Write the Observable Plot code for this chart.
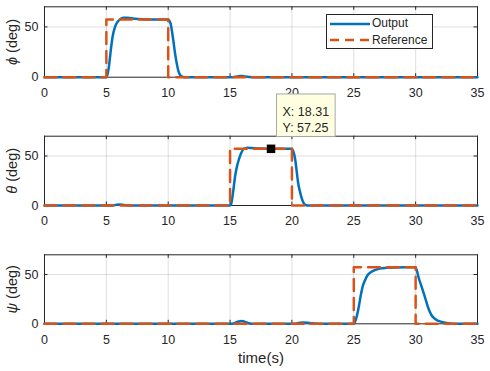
<!DOCTYPE html>
<html><head><meta charset="utf-8">
<script src="https://cdn.jsdelivr.net/npm/d3@7"></script>
<script src="https://cdn.jsdelivr.net/npm/@observablehq/plot@0.6"></script>
<style>
body{margin:0;background:#fff;}
#chart{position:relative;width:490px;height:371px;overflow:hidden;font-family:"Liberation Sans",Arial,sans-serif;color:#262626;}
#chart svg{position:absolute;left:0;}
</style></head><body><div id="chart"></div>
<script>
// ---- data ----
const xTicks = [0, 5, 10, 15, 20, 25, 30, 35];
const yTicks = [0, 50];
const xLabel = "time(s)";
const unitLabel = "(deg)";
const angleSymbols = ["ϕ", "θ", "ψ"];
const seriesNames = ["Output", "Reference"];

const phiOutT = [0, 5, 5.05, 5.2, 5.35, 5.5, 5.7, 5.9, 6.1, 6.4, 6.7, 7.0, 7.6, 8.3, 9.0, 10.0, 10.1, 10.2, 10.3, 10.43, 10.55, 10.7, 10.85, 11.0, 11.2, 11.5, 15.2, 15.6, 15.9, 16.2, 16.6, 17.0, 35];
const phiOutV = [0, 0, 1, 10, 26, 40, 50, 55, 57.5, 59, 59.2, 58.6, 57.8, 57.4, 57.3, 57.3, 56, 53, 46, 35, 24, 13, 5, 1.5, 0.3, 0, 0, 0.7, 1.1, 0.8, 0.2, 0, 0];
const phiRefT = [0, 5, 5, 10, 10, 35];
const phiRefV = [0, 0, 57.3, 57.3, 0, 0];

const thetaOutT = [0, 5.5, 5.8, 6.1, 6.4, 6.8, 15.0, 15.1, 15.25, 15.4, 15.55, 15.7, 15.9, 16.1, 16.4, 16.8, 17.5, 18.31, 19.0, 20.0, 20.1, 20.27, 20.4, 20.5, 20.65, 20.8, 20.95, 21.1, 21.3, 35];
const thetaOutV = [0, 0, 0.8, 1.1, 0.6, 0, 0, 2, 14, 29, 39, 46, 53, 57, 58.3, 58, 57.5, 57.25, 57.25, 57.25, 55, 46, 33, 23, 14, 7, 2.5, 0.5, 0, 0];
const thetaRefT = [0, 15, 15, 20, 20, 35];
const thetaRefV = [0, 0, 57.3, 57.3, 0, 0];

const psiOutT = [0, 15.2, 15.4, 15.7, 15.95, 16.2, 16.5, 16.8, 20.2, 20.5, 20.9, 21.4, 21.9, 22.3, 25.0, 25.1, 25.25, 25.4, 25.55, 25.7, 25.9, 26.1, 26.4, 26.7, 27.1, 27.6, 28.3, 30.0, 30.1, 30.24, 30.5, 30.8, 31.05, 31.3, 31.6, 31.85, 32.4, 33.0, 35];
const psiOutV = [0, 0, 1, 2.4, 2.8, 2, 0.7, 0, 0, 0.8, 1.2, 0.8, 0.3, 0, 0, 2, 8, 17, 28, 37, 44, 49, 52.5, 54.5, 56, 56.8, 57.2, 57.3, 54, 47, 37, 25, 15, 8.4, 4.5, 3, 1, 0, 0];
const psiRefT = [0, 25, 25, 30, 30, 35];
const psiRefV = [0, 0, 57.3, 57.3, 0, 0];

const datatipX = [18.31];
const datatipY = [57.25];

// ---- layout / style ----
const W = 490, ML = 44, MR = 13;
const BLUE = "#0072BD", ORANGE = "#D95319", AX = "#262626";
const panels = [
  {sym: angleSymbols[0], outT: phiOutT, outV: phiOutV, refT: phiRefT, refV: phiRefV, top: 0, height: 110, fTop: 6.3, fBot: 76.7},
  {sym: angleSymbols[1], outT: thetaOutT, outV: thetaOutV, refT: thetaRefT, refV: thetaRefV, top: 90, height: 140, fTop: 135.7, fBot: 205, tip: true},
  {sym: angleSymbols[2], outT: psiOutT, outV: psiOutV, refT: psiRefT, refV: psiRefV, top: 230, height: 141, fTop: 254.3, fBot: 323.3, xlab: true}
];

const chart = document.getElementById("chart");
const innerW = W - ML - MR;

panels.forEach((p) => {
  const out = p.outT.map((t, k) => ({t, v: p.outV[k]}));
  const ref = p.refT.map((t, k) => ({t, v: p.refV[k]}));
  const innerH = p.fBot - p.fTop;
  const label = `${p.sym} ${unitLabel}`;
  const marks = [
    Plot.gridX(xTicks.slice(1, -1), {stroke: AX, strokeOpacity: 0.15, strokeWidth: 1}),
    Plot.gridY(yTicks.slice(1), {stroke: AX, strokeOpacity: 0.15, strokeWidth: 1}),
    Plot.frame({stroke: AX, strokeWidth: 1}),
    Plot.tickX(xTicks, {x: d => d, insetTop: innerH - 3.5, stroke: AX}),
    Plot.tickX(xTicks, {x: d => d, insetBottom: innerH - 3.5, stroke: AX}),
    Plot.tickY(yTicks, {y: d => d, insetRight: innerW - 3.5, stroke: AX}),
    Plot.tickY(yTicks, {y: d => d, insetLeft: innerW - 3.5, stroke: AX}),
    Plot.axisX(xTicks, {tickSize: 0, tickPadding: 11, fontSize: 12.5, fill: AX, label: null}),
    Plot.axisY(yTicks, {tickSize: 0, tickPadding: 6, fontSize: 12.5, fill: AX, label: null}),
    Plot.text([label], {text: d => d, frameAnchor: "left", dx: -32, rotate: -90, fontSize: 14.5, fill: AX, textAnchor: "middle", lineAnchor: "middle"}),
    Plot.line(out, {x: "t", y: "v", stroke: BLUE, strokeWidth: 2.5, curve: "monotone-x"}),
    Plot.line(ref, {x: "t", y: "v", stroke: ORANGE, strokeWidth: 2.5, strokeDasharray: "12,7"})
  ];
  if (p.xlab) {
    marks.push(Plot.text([xLabel], {text: d => d, frameAnchor: "bottom", dy: 34, fontSize: 15, fill: AX, lineAnchor: "middle"}));
  }
  let tipData = [];
  if (p.tip) {
    tipData = datatipX.map((x, k) => ({x, y: datatipY[k]}));
    marks.push(Plot.dot(tipData, {x: "x", y: "y", symbol: "square", r: 4.8, fill: "black", stroke: "none"}));
    marks.push(Plot.text(tipData, {x: "x", y: "y", text: d => `X: ${d.x.toFixed(2)}\nY: ${d.y.toFixed(2)}`, dx: 11.5, dy: -16.6, textAnchor: "start", lineAnchor: "bottom", lineHeight: 1.3, fontSize: 12.5, fill: AX}));
  }
  const svg = Plot.plot({
    width: W,
    height: p.height,
    marginLeft: ML,
    marginRight: MR,
    marginTop: p.fTop - p.top,
    marginBottom: p.top + p.height - p.fBot,
    x: {domain: [0, 35]},
    y: {domain: [0, 70]},
    style: {fontFamily: '"Liberation Sans", Arial, sans-serif', fontSize: "12px", background: "transparent", overflow: "visible", color: AX},
    marks
  });
  svg.style.top = p.top + "px";
  chart.appendChild(svg);

  // italic Greek symbol in y label
  svg.querySelectorAll("text").forEach(t => {
    if (t.textContent === label) {
      t.textContent = "";
      const a = document.createElementNS("http://www.w3.org/2000/svg", "tspan");
      a.setAttribute("font-style", "italic");
      a.textContent = p.sym;
      const b = document.createElementNS("http://www.w3.org/2000/svg", "tspan");
      b.textContent = " " + unitLabel;
      t.appendChild(a); t.appendChild(b);
    }
  });
  // datatip box behind its text
  if (p.tip) {
    svg.querySelectorAll("text").forEach(t => {
      if (t.textContent.startsWith("X:")) {
        const bb = t.getBBox();
        const r = document.createElementNS("http://www.w3.org/2000/svg", "rect");
        r.setAttribute("x", bb.x - 6);
        r.setAttribute("y", bb.y - 11);
        r.setAttribute("width", bb.width + 12);
        r.setAttribute("height", bb.height + 12.2);
        r.setAttribute("fill", "#FFFFE1");
        r.setAttribute("stroke", "#a8a8a8");
        r.setAttribute("stroke-width", 1);
        if (t.getAttribute("transform")) r.setAttribute("transform", t.getAttribute("transform"));
        t.parentNode.insertBefore(r, t);
      }
    });
  }
});

// legend
const leg = document.createElement("div");
leg.style.cssText = "position:absolute;left:326px;top:13.5px;width:107px;height:35.5px;box-sizing:border-box;border:1px solid #262626;background:#fff;font-size:12px;";
const legStyles = [{stroke: BLUE, dash: null}, {stroke: ORANGE, dash: "9,6"}];
seriesNames.forEach((name, i) => {
  const cy = i === 0 ? 9.2 : 25.8;
  const line = `<svg width="42" height="6" style="position:absolute;left:3px;top:${cy - 3}px;overflow:visible"><line x1="0" x2="40" y1="3" y2="3" stroke="${legStyles[i].stroke}" stroke-width="2.5" ${legStyles[i].dash ? `stroke-dasharray="${legStyles[i].dash}"` : ""}/></svg>`;
  const txt = `<span style="position:absolute;left:45px;top:${cy - 7.5}px;line-height:15px;color:#262626;white-space:nowrap">${name}</span>`;
  leg.insertAdjacentHTML("beforeend", line + txt);
});
chart.appendChild(leg);
</script></body></html>
